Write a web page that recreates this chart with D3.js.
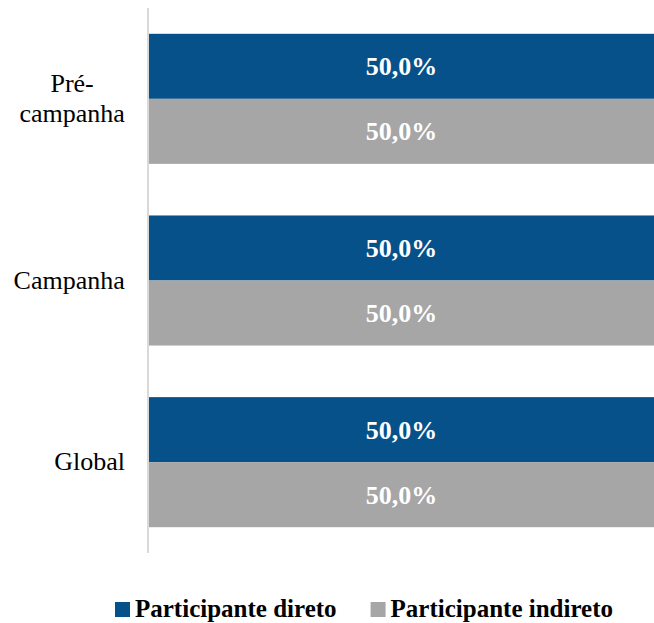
<!DOCTYPE html>
<html>
<head>
<meta charset="utf-8">
<script src="https://cdn.jsdelivr.net/npm/d3@7"></script>
<style>
  body { margin: 0; background: #fff; }
  text { font-family: "Liberation Serif", "Times New Roman", serif; }
</style>
</head>
<body>
<svg width="654" height="623"></svg>
<script>
// categories and series values
var categories = ["Pré-campanha", "Campanha", "Global"];
var categoryLines = [["Pré-", "campanha"], ["Campanha"], ["Global"]];
var seriesNames = ["Participante direto", "Participante indireto"];
var direto = [0.5, 0.5, 0.5];
var indireto = [0.5, 0.5, 0.5];
var colors = ["#07518b", "#a6a6a6"];

var svg = d3.select("svg"),
    width = +svg.attr("width"),
    height = +svg.attr("height");

var plotLeft = 149, plotRight = 654, plotTop = 8, plotBottom = 553;

var y = d3.scaleBand()
    .domain(categories)
    .range([plotTop, plotBottom])
    .paddingInner(0.284)
    .paddingOuter(0.142);

var ySub = d3.scaleBand()
    .domain(seriesNames)
    .range([0, y.bandwidth()]);

var x = d3.scaleLinear()
    .domain([0, 0.5])
    .range([plotLeft, plotRight]);

var fmt = function(v) { return (v * 100).toFixed(1).replace(".", ",") + "%"; };

var rows = categories.map(function(c, i) {
  return { cat: c, values: [direto[i], indireto[i]] };
});

var groups = svg.append("g")
    .selectAll("g")
    .data(rows)
    .enter().append("g")
    .attr("transform", function(d) { return "translate(0," + y(d.cat) + ")"; });

var bars = groups.selectAll("g")
    .data(function(d) { return d.values.map(function(v, j) { return { s: seriesNames[j], v: v, j: j }; }); })
    .enter().append("g");

bars.append("rect")
    .attr("x", x(0))
    .attr("y", function(d) { return ySub(d.s); })
    .attr("width", function(d) { return x(d.v) - x(0); })
    .attr("height", ySub.bandwidth())
    .attr("fill", function(d) { return colors[d.j]; });

bars.append("text")
    .attr("x", function(d) { return (x(0) + x(d.v)) / 2; })
    .attr("y", function(d) { return ySub(d.s) + ySub.bandwidth() / 2; })
    .attr("dy", "0.35em")
    .attr("text-anchor", "middle")
    .attr("fill", "#fff")
    .style("font-weight", "bold")
    .style("font-size", "26px")
    .text(function(d) { return fmt(d.v); });

// category axis line
svg.append("line")
    .attr("x1", 148).attr("x2", 148)
    .attr("y1", plotTop).attr("y2", plotBottom)
    .attr("stroke", "#d9d9d9")
    .attr("stroke-width", 2);

// category labels (multi-line centered, block right aligned)
categories.forEach(function(c, i) {
  var lines = categoryLines[i];
  var cy = y(c) + y.bandwidth() / 2;
  var t = svg.append("text")
      .attr("text-anchor", "middle")
      .attr("fill", "#000")
      .style("font-size", "26px");
  lines.forEach(function(l, k) {
    t.append("tspan")
      .attr("x", 0)
      .attr("y", cy + 8 + (k - (lines.length - 1) / 2) * 30)
      .text(l);
  });
  var w = t.node().getBBox().width;
  t.attr("transform", "translate(" + (125 - w / 2) + ",0)");
});

// legend
var legend = svg.append("g");
var lx = 115;
seriesNames.forEach(function(s, j) {
  legend.append("rect")
    .attr("x", lx).attr("y", 602)
    .attr("width", 15).attr("height", 15)
    .attr("fill", colors[j]);
  var t = legend.append("text")
    .attr("x", lx + 20).attr("y", 617)
    .attr("fill", "#000")
    .style("font-weight", "bold")
    .style("font-size", "25px")
    .text(s);
  lx = lx + 20 + t.node().getComputedTextLength() + 34;
});
</script>
</body>
</html>
